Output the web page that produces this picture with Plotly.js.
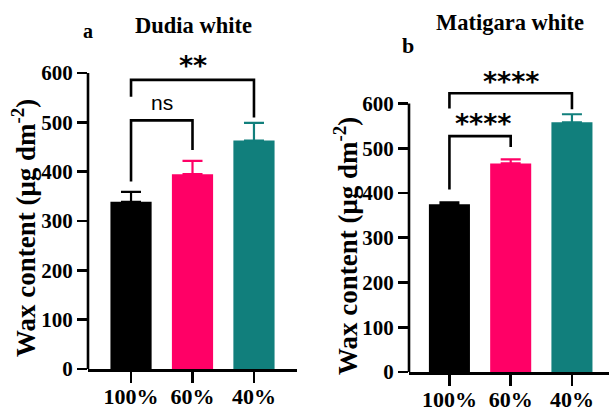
<!DOCTYPE html>
<html>
<head>
<meta charset="utf-8">
<script src="https://cdn.plot.ly/plotly-3.0.1.min.js"></script>
<style>html,body{margin:0;padding:0;background:#fff;}#chart{width:610px;height:409px;}</style>
</head>
<body>
<div id="chart"></div>
<script>
// ---- data ----
var categories = ['100%', '60%', '40%'];
var barColors = ['#000000', '#FF0066', '#117F7C'];

var dudiaMean = [339, 395, 463];
var dudiaErr = [20, 27, 36];

var matigaraMean = [375, 466, 558];
var matigaraErr = [4, 9, 18];

var yTicks = [0, 100, 200, 300, 400, 500, 600];

// significance brackets: [fromIdx, toIdx, leftLegBottom, top, rightLegBottom, label, labelX, labelY]
var dudiaBrackets = [
  [0, 1, 380, 504, 444, 'ns', 0.5, 540],
  [0, 2, 552, 586, 510, '**', 1.0, 616]
];
var matigaraBrackets = [
  [0, 2, 589, 623, 587, '****', 1.0, 650],
  [0, 1, 408, 527, 503, '****', 0.55, 556]
];

var serif = 'Liberation Serif, Times New Roman, serif';
var traces = [];
var annotations = [];
var shapes = [];

function addPanel(means, errs, brackets, xa, ya) {
  for (var i = 0; i < categories.length; i++) {
    traces.push({
      type: 'bar', x: [categories[i]], y: [means[i]], width: 0.67,
      xaxis: xa, yaxis: ya,
      marker: {color: barColors[i], line: {width: 0}},
      error_y: {type: 'data', symmetric: false, array: [errs[i]], arrayminus: [0],
                color: barColors[i], thickness: 2.2, width: 10},
      showlegend: false, hoverinfo: 'skip'
    });
  }
  brackets.forEach(function (b) {
    traces.push({
      type: 'scatter', mode: 'lines',
      x: [categories[b[0]], categories[b[0]], categories[b[1]], categories[b[1]]],
      y: [b[2], b[3], b[3], b[4]],
      xaxis: xa, yaxis: ya,
      line: {color: '#000', width: 2.6, shape: 'linear'},
      showlegend: false, hoverinfo: 'skip'
    });
    var isNs = b[5] === 'ns';
    annotations.push({
      xref: xa, yref: ya, x: b[6], y: b[7], text: b[5], showarrow: false,
      font: {family: isNs ? 'Liberation Sans, Arial, sans-serif' : 'DejaVu Sans, sans-serif',
             size: isNs ? 21 : 27, color: '#000', weight: isNs ? 'normal' : 'bold'},
      xanchor: 'center', yanchor: 'middle'
    });
  });
  shapes.push({type: 'line', xref: xa + ' domain', yref: ya, x0: 0, x1: 0, y0: 0, y1: 600,
               line: {color: '#000', width: 2.6}});
}

addPanel(dudiaMean, dudiaErr, dudiaBrackets, 'x', 'y');
addPanel(matigaraMean, matigaraErr, matigaraBrackets, 'x2', 'y2');

var yTickFont = {family: serif, size: 21, color: '#000'};
var xTickFont = {family: serif, size: 22, color: '#000'};
function bold(s) { return '<b>' + s + '</b>'; }

function xAxis(domain, range, anchor) {
  return {
    domain: domain, range: range, anchor: anchor, type: 'category',
    categoryorder: 'array', categoryarray: categories,
    tickmode: 'array', tickvals: categories, ticktext: categories.map(bold),
    showline: true, linecolor: '#000', linewidth: 2.6,
    ticks: 'outside', ticklen: 11, tickwidth: 2.6, tickcolor: '#000',
    ticklabelstandoff: -5,
    tickfont: xTickFont, showgrid: false, zeroline: false, fixedrange: true
  };
}
function yAxis(domain, range, anchor) {
  return {
    domain: domain, range: range, anchor: anchor,
    showline: false, tickmode: 'array', tickvals: yTicks,
    ticktext: yTicks.map(function (v) { return bold(String(v)); }),
    ticks: 'outside', ticklen: 10, tickwidth: 2.6, tickcolor: '#000',
    tickfont: yTickFont, showgrid: false, zeroline: false, fixedrange: true
  };
}

var titleFont = {family: serif, size: 22.5, color: '#000', weight: 'bold'};
var yTitleFont = {family: serif, size: 27, color: '#000', weight: 'bold'};
var yTitleText = 'Wax content (μg dm<sup>-2</sup>)';

annotations.push(
  {xref: 'paper', yref: 'paper', x: 193 / 610, y: 1 - 25 / 409, text: 'Dudia white', showarrow: false,
   font: titleFont, xanchor: 'center', yanchor: 'middle'},
  {xref: 'paper', yref: 'paper', x: 510 / 610, y: 1 - 23 / 409, text: 'Matigara white', showarrow: false,
   font: titleFont, xanchor: 'center', yanchor: 'middle'},
  {xref: 'paper', yref: 'paper', x: 88 / 610, y: 1 - 31 / 409, text: 'a', showarrow: false,
   font: {family: serif, size: 20, color: '#000', weight: 'bold'}, xanchor: 'center', yanchor: 'middle'},
  {xref: 'paper', yref: 'paper', x: 408 / 610, y: 1 - 46 / 409, text: 'b', showarrow: false,
   font: {family: serif, size: 22, color: '#000', weight: 'bold'}, xanchor: 'center', yanchor: 'middle'},
  {xref: 'paper', yref: 'paper', x: 24 / 610, y: 1 - 228 / 409, text: yTitleText, showarrow: false,
   textangle: -90, font: yTitleFont, xanchor: 'center', yanchor: 'middle'},
  {xref: 'paper', yref: 'paper', x: 346 / 610, y: 1 - 246 / 409, text: yTitleText, showarrow: false,
   textangle: -90, font: yTitleFont, xanchor: 'center', yanchor: 'middle'}
);

var layout = {
  width: 610, height: 409,
  margin: {l: 0, r: 0, t: 0, b: 0},
  paper_bgcolor: '#fff', plot_bgcolor: 'rgba(0,0,0,0)',
  barmode: 'overlay', showlegend: false,
  xaxis: xAxis([88 / 610, 297 / 610], [-0.7, 2.7], 'y'),
  yaxis: yAxis([40 / 409, 365.6 / 409], [0, 660], 'x'),
  xaxis2: xAxis([409 / 610, 608.7 / 610], [-0.66, 2.6], 'y2'),
  yaxis2: yAxis([37 / 409, 350.25 / 409], [0, 700], 'x2'),
  annotations: annotations,
  shapes: shapes
};

Plotly.newPlot('chart', traces, layout, {displayModeBar: false, staticPlot: true});
</script>
</body>
</html>
